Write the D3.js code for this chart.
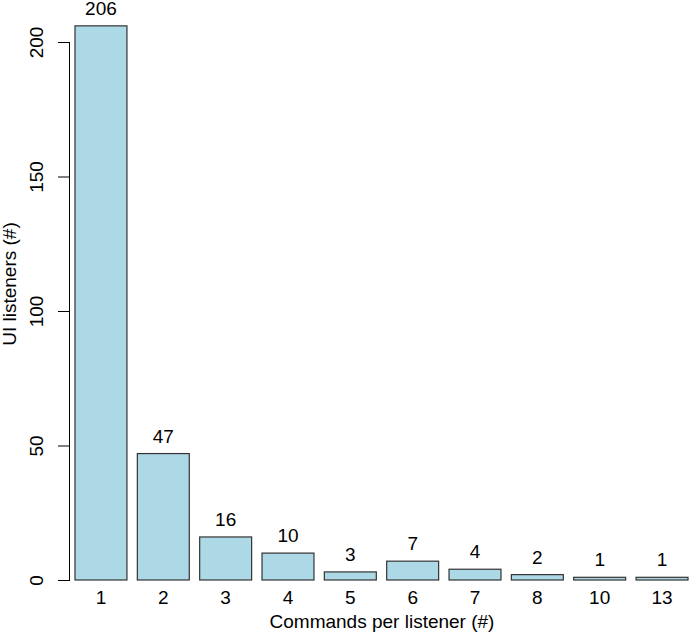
<!DOCTYPE html>
<html>
<head>
<meta charset="utf-8">
<script src="https://cdn.jsdelivr.net/npm/d3@7"></script>
<style>
  body { margin: 0; background: #fff; }
  text { font-family: "Liberation Sans", Arial, Helvetica, sans-serif; fill: #000; }
</style>
</head>
<body>
<div id="chart"></div>
<script>
// Commands per listener histogram
const categories = ["1", "2", "3", "4", "5", "6", "7", "8", "10", "13"];
const counts = [206, 47, 16, 10, 3, 7, 4, 2, 1, 1];
const yTicks = [0, 50, 100, 150, 200];

const width = 689;
const height = 633;
const fontSize = 19;

const svg = d3.select("#chart")
  .append("svg")
  .attr("width", width)
  .attr("height", height);

const x = d3.scaleBand()
  .domain(categories)
  .range([75, 688])
  .paddingInner(1 / 6)
  .paddingOuter(0);

const y = d3.scaleLinear()
  .domain([0, 200])
  .range([580, 42]);

// bars
svg.selectAll(".bar")
  .data(counts)
  .enter()
  .append("rect")
  .attr("class", "bar")
  .attr("x", (d, i) => x(categories[i]))
  .attr("y", (d) => y(d))
  .attr("width", x.bandwidth())
  .attr("height", (d) => y(0) - y(d))
  .attr("fill", "#add8e6")
  .attr("stroke", "#333")
  .attr("stroke-width", 1.2);

// value labels
svg.selectAll(".value")
  .data(counts)
  .enter()
  .append("text")
  .attr("class", "value")
  .attr("x", (d, i) => x(categories[i]) + x.bandwidth() / 2)
  .attr("y", (d) => y(d) - 11)
  .attr("text-anchor", "middle")
  .attr("font-size", fontSize)
  .text((d) => d);

// x tick labels (no axis line, like R barplot names)
svg.selectAll(".xlab")
  .data(categories)
  .enter()
  .append("text")
  .attr("class", "xlab")
  .attr("x", (d) => x(d) + x.bandwidth() / 2)
  .attr("y", 604)
  .attr("text-anchor", "middle")
  .attr("font-size", fontSize)
  .text((d) => d);

// y axis
const yAxis = svg.append("g")
  .attr("transform", "translate(70,0)")
  .call(d3.axisLeft(y).tickValues(yTicks).tickSize(12).tickPadding(0));

yAxis.select(".domain")
  .attr("d", `M-0.5,${y(0)}V${y(200)}`)
  .attr("stroke", "#000");
yAxis.selectAll(".tick line").attr("stroke", "#000");
yAxis.selectAll(".tick text")
  .attr("font-size", fontSize)
  .attr("font-family", "'Liberation Sans', Arial, sans-serif")
  .attr("fill", "#000")
  .attr("text-anchor", "middle")
  .attr("dy", 0)
  .attr("x", 0)
  .attr("transform", "translate(-27,0) rotate(-90)");

// axis titles
svg.append("text")
  .attr("x", 382)
  .attr("y", 628)
  .attr("text-anchor", "middle")
  .attr("font-size", fontSize)
  .text("Commands per listener (#)");

svg.append("text")
  .attr("transform", "translate(16,284) rotate(-90)")
  .attr("text-anchor", "middle")
  .attr("font-size", fontSize)
  .text("UI listeners (#)");
</script>
</body>
</html>
